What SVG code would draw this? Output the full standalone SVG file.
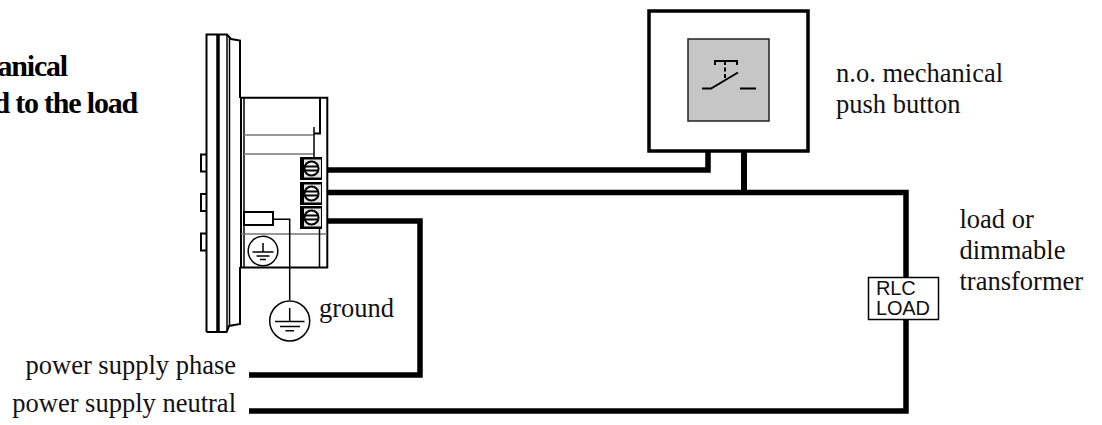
<svg xmlns="http://www.w3.org/2000/svg" width="1102" height="425" viewBox="0 0 1102 425">
<style>
.t{font-family:"Liberation Serif","Times New Roman",serif;font-size:26.500px;fill:#111}
.b{font-family:"Liberation Serif","Times New Roman",serif;font-size:30px;font-weight:bold;fill:#000;text-anchor:end;letter-spacing:-1.200px}
.l{font-family:"Liberation Sans",Arial,sans-serif;font-size:20px;fill:#111;letter-spacing:-.2px}
.s{fill:none;stroke:#000;stroke-width:1.500}
.m{fill:none;stroke:#000;stroke-width:2}
.g{fill:none;stroke:#777;stroke-width:1.500}
.w{fill:none;stroke:#000;stroke-width:5.500}
.w2{fill:none;stroke:#000;stroke-width:6}
</style>
<defs>
<g id="screw"><rect x="-11" y="-11.500" width="22" height="23" fill="#000"/><rect x="-7" y="-9" width="17" height="18" fill="#e4e4e4"/><circle r="7" cx="0.500" fill="#fff" stroke="#000" stroke-width="2"/><path d="M-7-2H8M-7 2H8" stroke="#000" stroke-width="1.800"/></g>
</defs>
<g id="connectors">
<path class="w" d="M327 170H708V151"/>
<path class="w" d="M327 192.500H906V278M906 319V411H249"/>
<path class="w2" d="M744 151V195"/>
<path class="w" d="M327 221H420V375H249"/>
</g>
<g id="device">
<path class="m" d="M206.500 332V34.500H227L231 39L240 40.500V98M240 267V324L229 326L226.500 332H206.500"/>
<path d="M218 34.500V332" stroke="#000" stroke-width="3.500"/>
<path class="s" d="M227 35V332M229.500 38V326"/>
<path class="m" d="M206 154.500H201V171.500H206M206 194H201V211H206M206 233.500H201V250.500H206"/>
<path class="m" d="M241 97.700H327.300V267.500H241Z"/>
<path class="s" d="M244 98V267"/>
<path class="g" d="M244 135H314M244 154H314M241 234H327"/>
<path class="m" d="M320 98V133.500H314"/>
<path class="s" d="M314 127V157"/>
<rect x="244" y="212" width="29" height="13" fill="#fff" stroke="#000" stroke-width="2"/>
<path class="s" d="M273 219.300H289.700V300M319.500 228V267"/>
<use href="#screw" x="311" y="168.500"/>
<use href="#screw" x="311" y="193.500"/>
<use href="#screw" x="311" y="217.500"/>
<circle cx="263" cy="251" r="14.800" fill="#fff" stroke="#000" stroke-width="1.500"/>
<path class="s" d="M263 243V252M252.500 252H273.500M256.500 256H269.500M260 259.500H266"/>
</g>
<g id="ground-symbol">
<circle cx="289.700" cy="321" r="20" fill="#fff" stroke="#000" stroke-width="1.500"/>
<path class="s" d="M289.700 308V321.500M275 321.500H304.500M280 326.500H300M285.500 330.700H294"/>
<text class="t" x="319" y="316.500">ground</text>
</g>
<g id="push-button">
<rect x="649" y="11" width="159" height="140" fill="#fff" stroke="#000" stroke-width="3.500"/>
<rect x="688" y="39" width="81" height="82" fill="#c6c6c6" stroke="#222" stroke-width="1.500"/>
<path class="m" d="M702 88.500H711L738 72.500M740 88.500H756"/>
<path class="m" d="M715 65V61H737V65"/>
<path d="M725 61V80" fill="none" stroke="#000" stroke-width="2" stroke-dasharray="4 2.500"/>
<text class="t" x="836" y="82">n.o. mechanical</text>
<text class="t" x="836" y="112.500">push button</text>
</g>
<g id="load">
<rect x="868.500" y="277.500" width="70" height="42" fill="#fff" stroke="#000" stroke-width="1.500"/>
<text class="l" x="876" y="295">RLC</text>
<text class="l" x="876" y="315">LOAD</text>
<text class="t" x="959.500" y="228">load or</text>
<text class="t" x="959.500" y="259">dimmable</text>
<text class="t" x="959.500" y="290">transformer</text>
</g>
<g id="labels">
<text class="b" x="67" y="76">anical</text>
<text class="b" x="137" y="113">d to the load</text>
<text class="t" x="236" y="374" text-anchor="end">power supply phase</text>
<text class="t" x="236" y="412" text-anchor="end">power supply neutral</text>
</g>
</svg>
